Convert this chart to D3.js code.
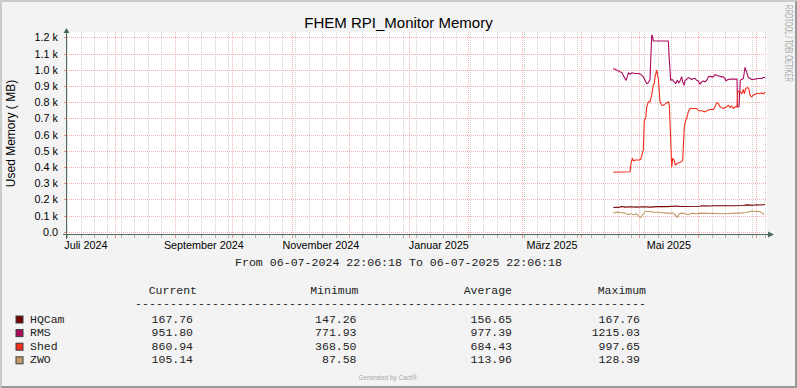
<!DOCTYPE html>
<html>
<head>
<meta charset="utf-8">
<script src="https://cdn.jsdelivr.net/npm/d3@7"></script>
<style>
	body { margin: 0; background: #f3f3f3; }
	svg { display: block; }
</style>
</head>
<body>
<div id="chart"></div>
<script>
// memory samples per host: [local time, MB]
var hqcam = [
	["2025-04-17 19:00", 150], ["2025-04-21 07:00", 152], ["2025-04-22 04:00", 156], ["2025-04-23 21:00", 152],
	["2025-04-26 12:00", 154], ["2025-04-30 00:00", 152], ["2025-05-03 10:00", 154], ["2025-05-06 22:00", 152],
	["2025-05-10 10:00", 155], ["2025-05-15 15:00", 155], ["2025-05-20 20:00", 159], ["2025-05-22 14:00", 156],
	["2025-06-02 00:00", 157], ["2025-06-02 21:00", 160], ["2025-06-07 05:00", 159], ["2025-06-08 22:00", 161],
	["2025-06-19 09:00", 161], ["2025-06-24 14:00", 162], ["2025-06-26 08:00", 166], ["2025-06-29 19:00", 164],
	["2025-07-01 13:00", 167], ["2025-07-03 07:00", 165], ["2025-07-05 00:00", 167], ["2025-07-05 21:00", 168]
];
var rms = [
	["2025-04-17 19:00", 1007], ["2025-04-19 17:00", 997], ["2025-04-21 07:00", 987], ["2025-04-22 08:00", 981],
	["2025-04-23 09:00", 956], ["2025-04-24 10:00", 935], ["2025-04-25 02:00", 956], ["2025-04-25 15:00", 981],
	["2025-04-26 12:00", 972], ["2025-04-27 09:00", 981], ["2025-04-29 02:00", 977], ["2025-04-30 20:00", 977],
	["2025-05-02 06:00", 970], ["2025-05-03 10:00", 956], ["2025-05-04 08:00", 935], ["2025-05-05 05:00", 915],
	["2025-05-06 01:00", 919], ["2025-05-06 22:00", 940], ["2025-05-07 19:00", 1212], ["2025-05-08 03:00", 1212],
	["2025-05-08 15:00", 1177], ["2025-05-16 11:00", 1177], ["2025-05-17 00:00", 1058], ["2025-05-17 17:00", 935],
	["2025-05-18 13:00", 940], ["2025-05-19 11:00", 925], ["2025-05-20 08:00", 915], ["2025-05-21 04:00", 935],
	["2025-05-22 01:00", 919], ["2025-05-22 17:00", 935], ["2025-05-23 11:00", 956], ["2025-05-23 23:00", 925],
	["2025-05-24 16:00", 905], ["2025-05-25 04:00", 935], ["2025-05-26 01:00", 940], ["2025-05-26 21:00", 952],
	["2025-05-27 19:00", 946], ["2025-05-28 16:00", 940], ["2025-05-29 12:00", 946], ["2025-05-30 09:00", 946],
	["2025-05-31 06:00", 935], ["2025-06-01 03:00", 931], ["2025-06-02 00:00", 911], ["2025-06-02 21:00", 925],
	["2025-06-03 17:00", 931], ["2025-06-04 14:00", 925], ["2025-06-05 12:00", 935], ["2025-06-06 08:00", 956],
	["2025-06-07 05:00", 960], ["2025-06-08 02:00", 956], ["2025-06-08 22:00", 956], ["2025-06-09 20:00", 970],
	["2025-06-10 17:00", 966], ["2025-06-11 13:00", 962], ["2025-06-12 10:00", 960], ["2025-06-13 07:00", 956],
	["2025-06-14 03:00", 956], ["2025-06-15 01:00", 946], ["2025-06-15 13:00", 931], ["2025-06-15 22:00", 935],
	["2025-06-16 18:00", 940], ["2025-06-17 15:00", 942], ["2025-06-21 07:00", 942], ["2025-06-21 13:00", 772],
	["2025-06-22 08:00", 772], ["2025-06-23 00:00", 935], ["2025-06-24 14:00", 946], ["2025-06-25 11:00", 1013],
	["2025-06-26 08:00", 987], ["2025-06-27 04:00", 952], ["2025-06-28 01:00", 946], ["2025-06-28 23:00", 940],
	["2025-06-30 16:00", 942], ["2025-07-02 09:00", 946], ["2025-07-04 04:00", 946], ["2025-07-05 00:00", 952],
	["2025-07-05 21:00", 952]
];
var shed = [
	["2025-04-17 19:00", 367], ["2025-04-26 12:00", 370], ["2025-04-27 00:00", 423], ["2025-04-27 17:00", 453],
	["2025-04-28 05:00", 439], ["2025-04-29 15:00", 443], ["2025-05-01 08:00", 443], ["2025-05-02 02:00", 447],
	["2025-05-02 22:00", 484], ["2025-05-03 10:00", 505], ["2025-05-03 23:00", 689], ["2025-05-04 16:00", 700],
	["2025-05-05 05:00", 771], ["2025-05-06 01:00", 802], ["2025-05-06 22:00", 802], ["2025-05-07 19:00", 843],
	["2025-05-08 15:00", 905], ["2025-05-09 04:00", 915], ["2025-05-09 13:00", 956], ["2025-05-10 10:00", 997],
	["2025-05-11 06:00", 946], ["2025-05-12 03:00", 802], ["2025-05-13 01:00", 781], ["2025-05-13 21:00", 781],
	["2025-05-14 18:00", 788], ["2025-05-15 15:00", 796], ["2025-05-16 11:00", 802], ["2025-05-17 00:00", 781],
	["2025-05-18 06:00", 398], ["2025-05-18 18:00", 453], ["2025-05-19 11:00", 443], ["2025-05-20 03:00", 412],
	["2025-05-21 04:00", 423], ["2025-05-22 14:00", 427], ["2025-05-23 23:00", 439], ["2025-05-24 19:00", 648],
	["2025-05-25 13:00", 689], ["2025-05-26 01:00", 700], ["2025-05-26 21:00", 740], ["2025-05-27 19:00", 761],
	["2025-05-31 06:00", 761], ["2025-06-01 03:00", 747], ["2025-06-02 21:00", 747], ["2025-06-04 14:00", 740],
	["2025-06-05 12:00", 747], ["2025-06-06 08:00", 751], ["2025-06-07 05:00", 755], ["2025-06-08 22:00", 755],
	["2025-06-09 20:00", 771], ["2025-06-10 17:00", 796], ["2025-06-11 13:00", 792], ["2025-06-12 10:00", 771],
	["2025-06-13 07:00", 765], ["2025-06-14 03:00", 761], ["2025-06-15 22:00", 771], ["2025-06-16 18:00", 781],
	["2025-06-17 15:00", 767], ["2025-06-18 12:00", 776], ["2025-06-19 09:00", 761], ["2025-06-20 06:00", 771],
	["2025-06-21 07:00", 771], ["2025-06-21 16:00", 868], ["2025-06-22 20:00", 864], ["2025-06-23 18:00", 853],
	["2025-06-24 14:00", 878], ["2025-06-25 02:00", 853], ["2025-06-25 20:00", 884], ["2025-06-26 21:00", 890],
	["2025-06-27 13:00", 878], ["2025-06-28 01:00", 843], ["2025-06-28 23:00", 833], ["2025-06-29 19:00", 843],
	["2025-06-30 16:00", 849], ["2025-07-01 13:00", 853], ["2025-07-03 07:00", 853], ["2025-07-04 04:00", 857],
	["2025-07-05 00:00", 851], ["2025-07-05 21:00", 861]
];
var zwo = [
	["2025-04-17 19:00", 115], ["2025-04-19 13:00", 121], ["2025-04-21 07:00", 119], ["2025-04-23 21:00", 115],
	["2025-04-25 15:00", 105], ["2025-04-26 12:00", 111], ["2025-04-28 05:00", 105], ["2025-04-30 00:00", 111],
	["2025-05-01 08:00", 94], ["2025-05-02 02:00", 88], ["2025-05-03 03:00", 105], ["2025-05-04 08:00", 125],
	["2025-05-06 22:00", 125], ["2025-05-08 15:00", 121], ["2025-05-12 03:00", 119], ["2025-05-15 15:00", 115],
	["2025-05-19 02:00", 115], ["2025-05-20 12:00", 98], ["2025-05-21 04:00", 88], ["2025-05-22 05:00", 111],
	["2025-05-23 11:00", 115], ["2025-05-25 04:00", 111], ["2025-05-26 21:00", 105], ["2025-05-28 16:00", 115],
	["2025-05-31 06:00", 111], ["2025-06-02 00:00", 115], ["2025-06-15 22:00", 111], ["2025-06-19 09:00", 115],
	["2025-06-22 20:00", 115], ["2025-06-26 08:00", 119], ["2025-06-28 23:00", 128], ["2025-07-01 13:00", 125],
	["2025-07-02 22:00", 125], ["2025-07-04 04:00", 119], ["2025-07-05 09:00", 105]
];

var seriesNames = ["HQCam", "RMS", "Shed", "ZWO"];
var statHeaders = ["Current", "Minimum", "Average", "Maximum"];
var statCurrent = ["167.76", "951.80", "860.94", "105.14"];
var statMinimum = ["147.26", "771.93", "368.50", "87.58"];
var statAverage = ["156.65", "977.39", "684.43", "113.96"];
var statMaximum = ["167.76", "1215.03", "997.65", "128.39"];

var timeStart = "2024-07-06 22:06:18";
var timeEnd = "2025-07-06 22:06:18";
var yTicks = [0, 100, 200, 300, 400, 500, 600, 700, 800, 900, 1000, 1100, 1200];
var yTickLabels = ["0.0", "0.1 k", "0.2 k", "0.3 k", "0.4 k", "0.5 k", "0.6 k", "0.7 k", "0.8 k", "0.9 k", "1.0 k", "1.1 k", "1.2 k"];
var xTickLabels = ["Juli 2024", "September 2024", "November 2024", "Januar 2025", "März 2025", "Mai 2025"];

var cfg = {
	w: 797,
	h: 388,
	left: 67, right: 767, top: 32, bottom: 235,
	yMin: -20, yMax: 1233,
	color: ["#740000", "#ab0a5d", "#f42d1a", "#c49a6a"],
	axis: "#4b6a5e",
	minor: "#d0d0d0",
	major: "#f4b2b2",
	sans: "'Liberation Sans', Arial, sans-serif",
	mono: "'Liberation Mono', 'Courier New', monospace"
};

var parseT = d3.timeParse("%Y-%m-%d %H:%M");
var parseFull = d3.timeParse("%Y-%m-%d %H:%M:%S");
var t0 = parseFull(timeStart), t1 = parseFull(timeEnd);

var svg = d3.select("#chart").append("svg")
	.attr("width", cfg.w)
	.attr("height", cfg.h);

// background with rrdtool style bevel
svg.append("rect").attr("width", cfg.w).attr("height", cfg.h).attr("fill", "#f3f3f3");
svg.append("path").attr("fill", "#cbcbcb")
	.attr("d", "M0,0 L0," + cfg.h + " L2," + (cfg.h - 2) + " L2,2 L" + (cfg.w - 2) + ",2 L" + cfg.w + ",0 Z");
svg.append("path").attr("fill", "#999999")
	.attr("d", "M" + cfg.w + "," + cfg.h + " L" + cfg.w + ",0 L" + (cfg.w - 2) + ",2 L" + (cfg.w - 2) + "," + (cfg.h - 2) + " L2," + (cfg.h - 2) + " L0," + cfg.h + " Z");

var x = d3.scaleTime().domain([t0, t1]).range([cfg.left, cfg.right]);
var y = d3.scaleLinear().domain([cfg.yMin, cfg.yMax]).range([cfg.bottom, cfg.top]);

svg.append("rect")
	.attr("x", cfg.left).attr("y", cfg.top)
	.attr("width", cfg.right - cfg.left).attr("height", cfg.bottom - cfg.top)
	.attr("fill", "#ffffff");

var grid = svg.append("g").attr("shape-rendering", "crispEdges");
var px = function(v) { return Math.round(v) + 0.5; };

// weekly minor grid
var weeks = x.ticks(d3.timeSunday);
grid.selectAll(".minor").data(weeks).enter().append("line")
	.attr("x1", function(d) { return px(x(d)); }).attr("x2", function(d) { return px(x(d)); })
	.attr("y1", cfg.top).attr("y2", cfg.bottom)
	.attr("stroke", cfg.minor).attr("stroke-dasharray", "1,1");
grid.selectAll(".minortick").data(weeks).enter().append("line")
	.attr("x1", function(d) { return px(x(d)); }).attr("x2", function(d) { return px(x(d)); })
	.attr("y1", cfg.bottom).attr("y2", cfg.bottom + 3)
	.attr("stroke", "#b0b0b0");

// monthly major grid
var months = x.ticks(d3.timeMonth);
grid.selectAll(".major").data(months).enter().append("line")
	.attr("x1", function(d) { return px(x(d)); }).attr("x2", function(d) { return px(x(d)); })
	.attr("y1", cfg.top).attr("y2", cfg.bottom)
	.attr("stroke", cfg.major).attr("stroke-dasharray", "1,1");
grid.selectAll(".majortick").data(months).enter().append("line")
	.attr("x1", function(d) { return px(x(d)); }).attr("x2", function(d) { return px(x(d)); })
	.attr("y1", cfg.bottom).attr("y2", cfg.bottom + 3)
	.attr("stroke", "#ee8e8e");

// horizontal grid
grid.selectAll(".hgrid").data(yTicks).enter().append("line")
	.attr("x1", cfg.left).attr("x2", cfg.right)
	.attr("y1", function(d) { return px(y(d)); }).attr("y2", function(d) { return px(y(d)); })
	.attr("stroke", cfg.major).attr("stroke-dasharray", "1,1");
grid.selectAll(".htick").data(yTicks).enter().append("line")
	.attr("x1", cfg.left - 3).attr("x2", cfg.left)
	.attr("y1", function(d) { return px(y(d)); }).attr("y2", function(d) { return px(y(d)); })
	.attr("stroke", "#ee8e8e");

// series lines
var series = [hqcam, rms, shed, zwo];
var line = d3.line()
	.x(function(d) { return x(parseT(d[0])); })
	.y(function(d) { return y(d[1]); });
series.forEach(function(s, i) {
	svg.append("path")
		.datum(s)
		.attr("fill", "none")
		.attr("stroke", cfg.color[i])
		.attr("stroke-width", 1.1)
		.attr("stroke-linejoin", "round")
		.attr("d", line);
});

// axes with arrows
var ax = svg.append("g").attr("shape-rendering", "crispEdges");
ax.append("line").attr("x1", cfg.left - 4).attr("x2", cfg.right + 2)
	.attr("y1", cfg.bottom - 0.5).attr("y2", cfg.bottom - 0.5).attr("stroke", cfg.axis);
ax.append("line").attr("x1", cfg.left - 0.5).attr("x2", cfg.left - 0.5)
	.attr("y1", cfg.bottom + 4).attr("y2", cfg.top - 2).attr("stroke", cfg.axis);
svg.append("path").attr("fill", cfg.axis)
	.attr("d", "M" + (cfg.right + 1) + "," + (cfg.bottom - 3.5) + " L" + (cfg.right + 7) + "," + (cfg.bottom - 0.5) + " L" + (cfg.right + 1) + "," + (cfg.bottom + 2.5) + " Z");
svg.append("path").attr("fill", cfg.axis)
	.attr("d", "M" + (cfg.left - 3.5) + "," + (cfg.top + 1) + " L" + (cfg.left - 0.5) + "," + (cfg.top - 4) + " L" + (cfg.left + 2.5) + "," + (cfg.top + 1) + " Z");

// month labels centred on each labelled month
var labelMonths = d3.timeMonth.every(2).range(d3.timeMonth.floor(t0), t1)
	.map(function(m) { return new Date((+m + +d3.timeMonth.offset(m, 1)) / 2); })
	.filter(function(d) { return d < t1; });

var xAxis = svg.append("g")
	.attr("transform", "translate(0," + cfg.bottom + ")")
	.call(d3.axisBottom(x).tickValues(labelMonths)
		.tickFormat(function(d, i) { return xTickLabels[i]; })
		.tickSize(0).tickPadding(6.3));
xAxis.select(".domain").remove();
xAxis.selectAll("text").attr("font-family", cfg.sans).attr("font-size", "10.8px").attr("fill", "#000");

var yAxis = svg.append("g")
	.attr("transform", "translate(" + cfg.left + ",0)")
	.call(d3.axisLeft(y).tickValues(yTicks)
		.tickFormat(function(d, i) { return yTickLabels[i]; })
		.tickSize(0).tickPadding(9));
yAxis.select(".domain").remove();
yAxis.selectAll("text").attr("font-family", cfg.sans).attr("font-size", "10.8px").attr("fill", "#000");

// title and labels
svg.append("text")
	.attr("x", cfg.w / 2).attr("y", 28)
	.attr("text-anchor", "middle")
	.attr("font-family", cfg.sans).attr("font-size", "15px")
	.text("FHEM RPI_Monitor Memory");

svg.append("text")
	.attr("transform", "translate(15," + ((cfg.top + cfg.bottom) / 2) + ") rotate(-90)")
	.attr("text-anchor", "middle")
	.attr("font-family", cfg.sans).attr("font-size", "12px")
	.text("Used Memory ( MB)");

svg.append("text")
	.attr("transform", "translate(785,5) rotate(90)")
	.attr("font-family", cfg.sans).attr("font-size", "10px")
	.attr("fill", "#a9a9a9")
	.attr("textLength", 77).attr("lengthAdjust", "spacingAndGlyphs")
	.text("RRDTOOL / TOBI OETIKER");

svg.append("text")
	.attr("x", cfg.w / 2).attr("y", 266)
	.attr("text-anchor", "middle")
	.attr("font-family", cfg.mono).attr("font-size", "11.6px")
	.attr("fill", "#222")
	.text("From " + d3.timeFormat("%d-%m-%Y %H:%M:%S")(t0) + " To " + d3.timeFormat("%d-%m-%Y %H:%M:%S")(t1));

// legend table
var colEnd = [197, 358.5, 512, 646];
var valEnd = [193, 356.5, 512, 640];
var stats = [statCurrent, statMinimum, statAverage, statMaximum];
var legend = svg.append("g")
	.attr("font-family", cfg.mono).attr("font-size", "11.5px").attr("fill", "#222");

legend.selectAll(".head").data(statHeaders).enter().append("text")
	.attr("x", function(d, i) { return colEnd[i]; }).attr("y", 293.5)
	.attr("text-anchor", "end")
	.text(function(d) { return d; });

legend.append("text")
	.attr("x", 135).attr("y", 307)
	.attr("textLength", 511).attr("lengthAdjust", "spacing")
	.text(d3.range(73).map(function() { return "-"; }).join(""));

var rows = legend.selectAll(".row").data(seriesNames).enter().append("g")
	.attr("transform", function(d, i) { return "translate(0," + (322.5 + i * 13.6) + ")"; });

rows.append("rect")
	.attr("x", 16).attr("y", -6.5).attr("width", 7).attr("height", 7)
	.attr("fill", function(d, i) { return cfg.color[i]; })
	.attr("stroke", "#3c3c3c").attr("stroke-width", 1);

rows.append("text").attr("x", 30).text(function(d) { return d; });

stats.forEach(function(col, c) {
	rows.append("text")
		.attr("x", valEnd[c])
		.attr("text-anchor", "end")
		.text(function(d, i) { return col[i]; });
});

svg.append("text")
	.attr("x", 388).attr("y", 379.5)
	.attr("text-anchor", "middle")
	.attr("font-family", cfg.sans).attr("font-size", "6.3px")
	.attr("fill", "#a8a8a8")
	.text("Generated by Cacti®");
</script>
</body>
</html>
